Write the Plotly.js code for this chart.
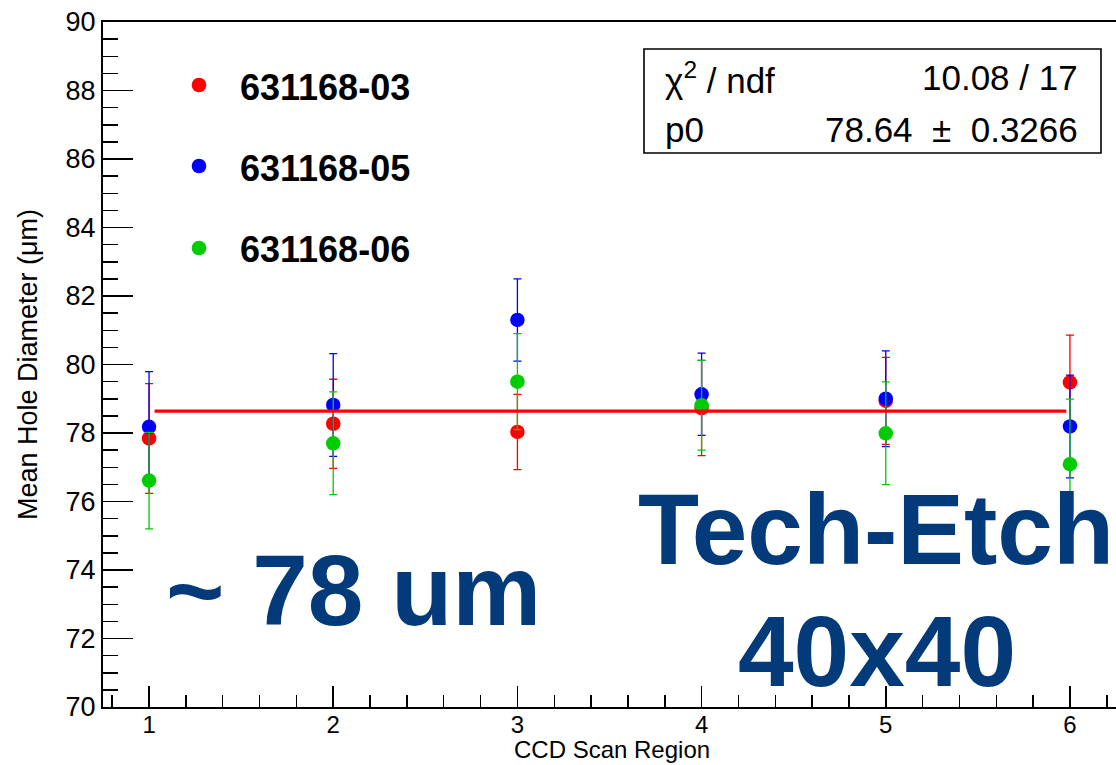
<!DOCTYPE html>
<html>
<head>
<meta charset="utf-8">
<script src="https://cdn.plot.ly/plotly-3.0.1.min.js"></script>
<style>
  html, body { margin: 0; padding: 0; background: #ffffff; }
  #chart { width: 1116px; height: 765px; }
</style>
</head>
<body>
<div id="chart"></div>
<script>
// ---- data ----
const regions = [1, 2, 3, 4, 5, 6];

const seriesNames = ["631168-03", "631168-05", "631168-06"];

const diam03 = [77.84, 78.27, 78.03, 78.73, 78.94, 79.48];
const err03  = [1.60, 1.30, 1.10, 1.39, 1.27, 1.38];

const diam05 = [78.18, 78.82, 81.30, 79.13, 79.00, 78.19];
const err05  = [1.61, 1.50, 1.20, 1.20, 1.40, 1.50];

const diam06 = [76.61, 77.70, 79.50, 78.81, 77.99, 77.09];
const err06  = [1.41, 1.50, 1.40, 1.31, 1.50, 1.90];

const fitRange = [1.03, 5.98];
const fitP0 = 78.64;
const fitP0Err = 0.3266;
const chi2 = 10.08;
const ndf = 17;

const xTitle = "CCD Scan Region";
const yTitle = "Mean Hole Diameter (μm)";

// ---- styling ----
const colors = ["#ff0000", "#0000ff", "#00cc00"];
const FONT = "Liberation Sans, Arial, Helvetica, sans-serif";
const NAVY = "#033a7a";

function seriesTrace(y, err, color, name) {
  return {
    type: "scatter", mode: "markers", name: name,
    x: regions, y: y,
    marker: { color: color, size: 14.5, line: { width: 0 } },
    error_y: { type: "data", array: err, visible: true, color: color, thickness: 1.3, width: 4 },
    showlegend: false, cliponaxis: false
  };
}

const traces = [
  seriesTrace(diam03, err03, colors[0], seriesNames[0]),
  seriesTrace(diam05, err05, colors[1], seriesNames[1]),
  seriesTrace(diam06, err06, colors[2], seriesNames[2]),
  {
    type: "scatter", mode: "lines", name: "fit",
    x: fitRange, y: fitRange.map(() => fitP0),
    line: { color: "#ff0000", width: 3.3 },
    showlegend: false
  }
];

// pixel -> paper helpers (plot area 103..1116 x, 22..707 y)
const L = 103, T = 22, W = 1013, H = 685;
const px = v => (v - L) / W;
const py = v => (T + H - v) / H;

const legendY = [85, 166, 248];
const legendTextY = [87, 168, 249];

const shapes = [];
const annotations = [];

seriesNames.forEach((n, i) => {
  shapes.push({
    type: "circle", xref: "paper", yref: "paper",
    xsizemode: "pixel", ysizemode: "pixel",
    xanchor: px(199), yanchor: py(legendY[i]),
    x0: -7.3, x1: 7.3, y0: -7.3, y1: 7.3,
    fillcolor: colors[i], line: { width: 0 }
  });
  annotations.push({
    xref: "paper", yref: "paper", x: px(238), y: py(legendTextY[i]),
    xanchor: "left", yanchor: "middle", showarrow: false,
    text: "<b>" + n + "</b>",
    font: { family: FONT, size: 36, color: "#000000" }
  });
});

// stats box
shapes.push({
  type: "rect", xref: "paper", yref: "paper",
  x0: px(644), x1: px(1101), y0: py(153), y1: py(49),
  fillcolor: "#ffffff", line: { color: "#000000", width: 1.6 }, layer: "above"
});
const statFont = { family: FONT, size: 35, color: "#000000" };
annotations.push(
  { xref: "paper", yref: "paper", x: px(663), y: py(78), xanchor: "left", yanchor: "middle", showarrow: false,
    text: "χ<sup>2</sup> / ndf", font: statFont },
  { xref: "paper", yref: "paper", x: px(1080), y: py(78), xanchor: "right", yanchor: "middle", showarrow: false,
    text: chi2.toFixed(2) + " / " + ndf, font: statFont },
  { xref: "paper", yref: "paper", x: px(663), y: py(129), xanchor: "left", yanchor: "middle", showarrow: false,
    text: "p0", font: statFont },
  { xref: "paper", yref: "paper", x: px(1080), y: py(129), xanchor: "right", yanchor: "middle", showarrow: false,
    text: fitP0.toFixed(2) + "&nbsp; ±&nbsp; " + fitP0Err, font: statFont }
);

// x axis title (placed at the bottom edge, as in the reference)
annotations.push({
  xref: "paper", yref: "paper", x: px(612), y: py(765), xanchor: "center", yanchor: "bottom", showarrow: false,
  text: xTitle, font: { family: FONT, size: 24, color: "#000000" }
});

// big labels
const bigFont = { family: FONT, size: 100, color: NAVY };
annotations.push(
  { xref: "paper", yref: "paper", x: px(353), y: py(590), xanchor: "center", yanchor: "middle", showarrow: false,
    text: "<b>~ 78 um</b>", font: bigFont },
  { xref: "paper", yref: "paper", x: px(876), y: py(529), xanchor: "center", yanchor: "middle", showarrow: false,
    text: "<b>Tech-Etch</b>", font: bigFont },
  { xref: "paper", yref: "paper", x: px(877), y: py(651), xanchor: "center", yanchor: "middle", showarrow: false,
    text: "<b>40x40</b>", font: bigFont }
);

const layout = {
  width: 1116, height: 765,
  margin: { l: L, r: 0, t: T, b: 765 - T - H },
  paper_bgcolor: "#ffffff", plot_bgcolor: "#ffffff",
  font: { family: FONT, color: "#000000" },
  showlegend: false,
  xaxis: {
    range: [0.75, 6.25], tickmode: "linear", tick0: 0, dtick: 1,
    ticks: "inside", ticklen: 21, tickwidth: 1.5, tickcolor: "#000000",
    ticklabelstandoff: -5,
    minor: { dtick: 0.2, tick0: 0, ticks: "inside", ticklen: 12, tickwidth: 1.5, tickcolor: "#000000" },
    showgrid: false, zeroline: false,
    showline: true, linecolor: "#000000", linewidth: 2, mirror: true,
    tickfont: { family: FONT, size: 24, color: "#000000" }
  },
  yaxis: {
    range: [70, 90], tickmode: "linear", tick0: 0, dtick: 2,
    ticks: "inside", ticklen: 30, tickwidth: 1.5, tickcolor: "#000000",
    minor: { dtick: 0.5, tick0: 0, ticks: "inside", ticklen: 15, tickwidth: 1.5, tickcolor: "#000000" },
    showgrid: false, zeroline: false,
    showline: true, linecolor: "#000000", linewidth: 2, mirror: true,
    tickfont: { family: FONT, size: 27, color: "#000000" },
    title: { text: yTitle, font: { family: FONT, size: 27, color: "#000000" }, standoff: 20 }
  },
  shapes: shapes,
  annotations: annotations
};

Plotly.newPlot("chart", traces, layout, { displayModeBar: false, staticPlot: true });
</script>
</body>
</html>
